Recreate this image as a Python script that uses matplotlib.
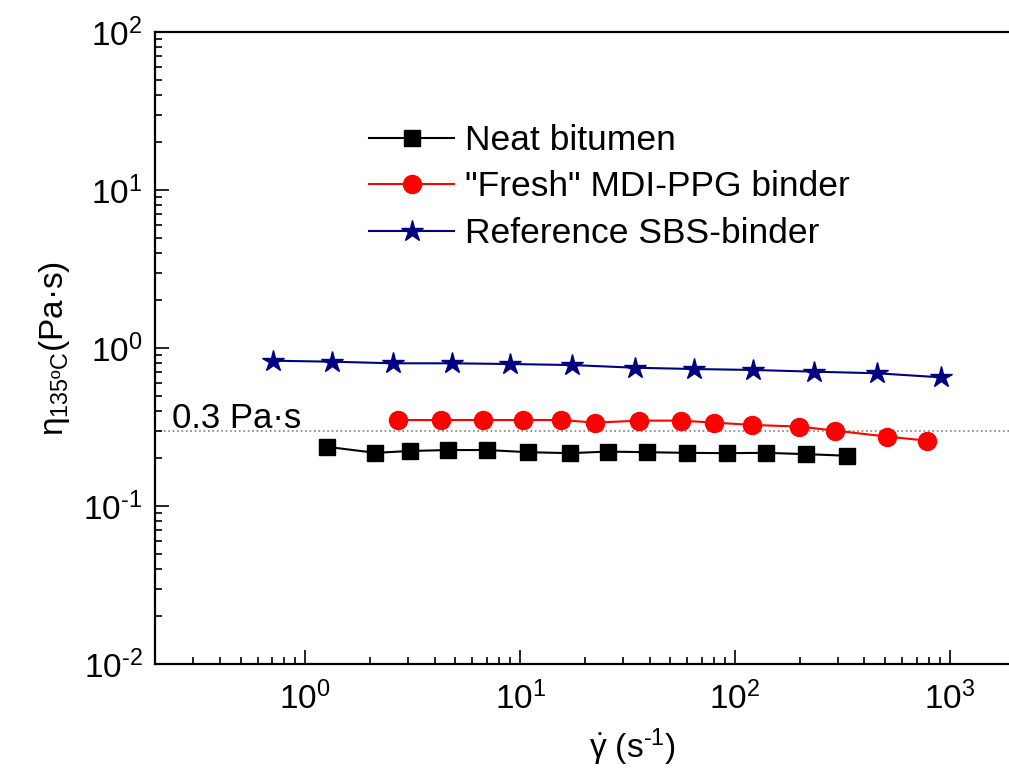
import numpy as np
import matplotlib
matplotlib.use("Agg")
import matplotlib.pyplot as plt
from matplotlib.ticker import LogLocator, NullFormatter, FuncFormatter

plt.rcParams['font.family'] = ['Liberation Sans', 'DejaVu Sans']
plt.rcParams['mathtext.fontset'] = 'custom'
plt.rcParams['mathtext.rm'] = 'Liberation Sans'
plt.rcParams['mathtext.it'] = 'Liberation Sans:italic'
plt.rcParams['mathtext.default'] = 'regular'
plt.rcParams['axes.unicode_minus'] = False

# 数据
neat_x = [1.26, 2.12, 3.08, 4.61, 7.04, 10.9, 17.1, 25.5, 39.1, 59.6, 91.4, 139, 213, 331]
neat_y = [0.237, 0.217, 0.223, 0.226, 0.226, 0.219, 0.216, 0.221, 0.219, 0.217, 0.216, 0.217, 0.213, 0.208]

fresh_x = [2.69, 4.28, 6.75, 10.3, 15.5, 22.3, 35.9, 55.9, 79.9, 120, 199, 292, 508, 784]
fresh_y = [0.350, 0.350, 0.350, 0.350, 0.350, 0.337, 0.347, 0.347, 0.337, 0.326, 0.318, 0.300, 0.275, 0.259]

sbs_x = [0.708, 1.33, 2.57, 4.81, 8.98, 17.4, 34.3, 64.7, 121.6, 233, 456, 908]
sbs_y = [0.831, 0.819, 0.80, 0.80, 0.792, 0.78, 0.75, 0.736, 0.726, 0.708, 0.692, 0.652]

labels = ['Neat bitumen', '"Fresh" MDI-PPG binder', 'Reference SBS-binder']
ref_level = 0.3


def pow10(v, pos):
    e = int(round(np.log10(v)))
    s = str(e).replace('-', r'\text{-}')
    return r'$10^{%s}$' % s


fig = plt.figure(figsize=(10.09, 7.78), dpi=100)
ax = fig.add_axes([155 / 1009, 114 / 778, 854 / 1009, 632 / 778])

ax.axhline(ref_level, color='#808080', linestyle=':', linewidth=1.2, zorder=1)

ax.plot(neat_x, neat_y, color='black', marker='s', ms=11, lw=1.5, label=labels[0])
ax.plot(fresh_x, fresh_y, color='#FF0000', marker='o', ms=13, lw=1.5, label=labels[1])
ax.plot(sbs_x, sbs_y, color='#000080', marker='*', ms=16, lw=1.5, label=labels[2])

ax.set_xscale('log')
ax.set_yscale('log')
ax.set_xlim(0.2, 10 ** (3 + 59 / 215))
ax.set_ylim(1e-2, 1e2)

ax.xaxis.set_major_locator(LogLocator(base=10, numticks=10))
ax.xaxis.set_minor_locator(LogLocator(base=10, subs=np.arange(2, 10), numticks=20))
ax.yaxis.set_major_locator(LogLocator(base=10, numticks=10))
ax.yaxis.set_minor_locator(LogLocator(base=10, subs=np.arange(2, 10), numticks=20))
ax.xaxis.set_major_formatter(FuncFormatter(pow10))
ax.yaxis.set_major_formatter(FuncFormatter(pow10))
ax.xaxis.set_minor_formatter(NullFormatter())
ax.yaxis.set_minor_formatter(NullFormatter())

ax.tick_params(which='both', direction='in', top=False, right=False, labelsize=24, width=1.2)
ax.tick_params(which='major', length=10)
ax.tick_params(which='minor', length=5)
ax.tick_params(axis='x', which='major', pad=13)
ax.tick_params(axis='y', which='major', pad=9)
for s in ['left', 'bottom', 'top']:
    ax.spines[s].set_linewidth(1.6)
ax.spines['right'].set_visible(False)

ax.set_xlabel(r'$\dot{\gamma}$ (s$^{\text{-}1}$)', fontsize=24)
ax.xaxis.set_label_coords(0.5585, -0.099)
ax.set_ylabel(r'$\eta_{135ºC}$(Pa·s)', fontsize=24)
ax.yaxis.set_label_coords(-0.097, 0.5)

ax.text(0.02, 0.373, '0.3 Pa·s', transform=ax.transAxes, fontsize=25, va='baseline', ha='left')

ax.legend(loc='upper left', bbox_to_anchor=(369 / 1009, 1 - 124 / 778),
          bbox_transform=fig.transFigure, frameon=False, fontsize=25.5,
          handlelength=2.4, handletextpad=0.3, labelspacing=0.38,
          borderpad=0, borderaxespad=0)

fig.savefig('out.png', dpi=100)
